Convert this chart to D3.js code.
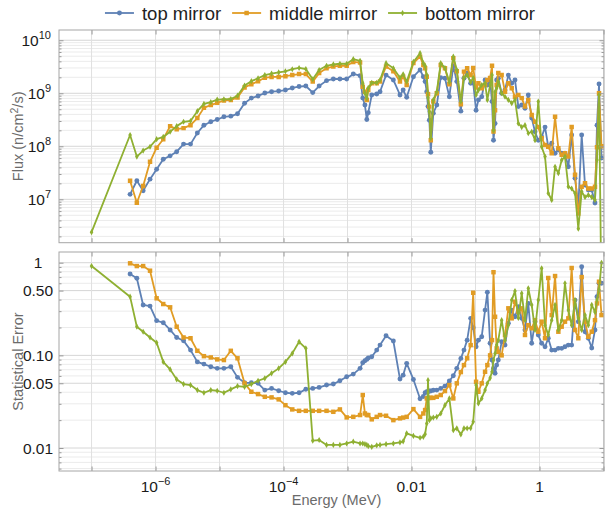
<!DOCTYPE html>
<html>
<head>
<meta charset="utf-8">
<script src="https://cdn.jsdelivr.net/npm/d3@7"></script>
<style>
  body { margin: 0; background: #fff; }
  svg { font-family: "Liberation Sans", Arial, Helvetica, sans-serif; }
</style>
</head>
<body>
<svg id="chart" width="609" height="508"></svg>
<script>
// ---- data -----------------------------------------------------------------
// Energy bin values (MeV), shared by the three mirrors
const energy = [
  4.0e-7, 5.1e-7, 6.4e-7, 8.2e-7, 1.04e-6, 1.32e-6, 1.69e-6, 2.14e-6, 2.74e-6, 3.52e-6,
  4.5e-6, 5.7e-6, 7.3e-6, 9.2e-6, 1.17e-5, 1.5e-5, 1.91e-5, 2.46e-5, 3.14e-5, 4.0e-5,
  5.1e-5, 6.5e-5, 8.4e-5, 1.07e-4, 1.37e-4, 1.75e-4, 2.23e-4, 2.86e-4, 3.6e-4, 4.7e-4,
  6.0e-4, 7.6e-4, 9.7e-4, 1.23e-3, 1.57e-3,
  1.73e-3, 1.87e-3, 2.0e-3, 2.11e-3, 2.39e-3, 2.86e-3, 3.22e-3, 4.0e-3, 5.2e-3, 6.6e-3,
  7.4e-3, 8.4e-3, 1.07e-2, 1.36e-2, 1.53e-2, 1.63e-2, 1.73e-2, 1.81e-2, 1.9e-2, 2.0e-2,
  2.19e-2, 2.48e-2, 2.86e-2, 3.33e-2, 3.9e-2, 4.5e-2, 5.1e-2, 5.9e-2, 6.6e-2, 7.4e-2,
  8.4e-2, 9.2e-2, 0.102, 0.111, 0.125, 0.141, 0.153, 0.169, 0.181, 0.191,
  0.202, 0.214, 0.227, 0.256, 0.289, 0.326, 0.368, 0.414, 0.467, 0.527,
  0.593, 0.668, 0.755, 0.851, 0.957, 1.08, 1.22, 1.37, 1.55, 1.75,
  1.97, 2.22, 2.5, 2.82, 3.18, 3.59, 4.04, 4.56, 5.14, 5.79,
  6.55, 7.36, 7.91, 8.51, 9.31
];
// The bottom mirror also has a lowest bin at 1e-7 MeV
const bottomEnergy = [1.0e-7].concat(energy);

// Flux (n/cm^2/s)
const topFlux = [
  1.24e7, 2.24e7, 1.45e7, 2.4e7, 3.7e7, 5.7e7, 6.6e7, 7.9e7, 1.1e8, 1.1e8,
  1.78e8, 2.5e8, 2.9e8, 3.2e8, 3.6e8, 3.7e8, 4.1e8, 6.5e8, 8.1e8, 8.9e8,
  1.01e9, 1.07e9, 1.1e9, 1.15e9, 1.26e9, 1.34e9, 1.37e9, 1.03e9, 1.37e9, 1.73e9,
  1.86e9, 1.86e9, 1.86e9, 2.31e9, 2.15e9,
  8.1e8, 6.0e8, 3.2e8, 4.3e8, 9.3e8, 9.7e8, 1.07e9, 2.2e9, 1.78e9, 9.3e8,
  1.15e9, 8.4e8, 2.05e9, 2.75e9, 2.05e9, 1.66e9, 1.07e9, 5.6e8, 3.1e8, 7.7e7,
  4.2e8, 6.0e8, 1.97e9, 1.92e9, 8.6e8, 3.3e9, 1.66e9, 4.6e8, 1.92e9, 2.4e9,
  1.55e9, 1.56e9, 4.8e8, 7.5e8, 8.6e8, 1.78e9, 1.43e9, 1.78e9, 7.0e8, 1.3e8,
  2.7e8, 1.78e9, 1.92e9, 1.0e9, 1.15e9, 2.2e9, 1.55e9, 1.78e9, 5.6e8, 6.0e8,
  5.2e8, 9.3e8, 3.4e8, 1.88e8, 1.3e8, 1.5e8, 2.3e8, 9.8e7, 1.14e8, 7.4e7,
  8.5e7, 7.4e7, 7.4e7, 4.1e7, 1.63e8, 2.5e7, 7.2e6, 1.63e8, 1.86e7, 1.5e7,
  1.5e7, 8.5e6, 2.5e8, 1.5e9, 6.0e7
];
const middleFlux = [
  2.24e7, 8.6e6, 1.78e7, 5.1e7, 9.4e7, 1.36e8, 2.4e8, 2.1e8, 2.2e8, 2.5e8,
  3.4e8, 5.3e8, 6.0e8, 6.6e8, 7.3e8, 7.5e8, 8.3e8, 1.29e9, 1.48e9, 1.68e9,
  1.96e9, 2.03e9, 2.03e9, 2.1e9, 2.2e9, 2.3e9, 2.3e9, 1.66e9, 2.4e9, 2.96e9,
  3.2e9, 3.3e9, 3.3e9, 3.9e9, 3.8e9,
  1.33e9, 1.07e9, 7.5e8, 1.15e9, 1.55e9, 1.55e9, 1.66e9, 3.2e9, 2.6e9, 1.66e9,
  2.05e9, 1.43e9, 3.7e9, 4.9e9, 3.4e9, 2.96e9, 2.05e9, 9.6e8, 5.6e8, 1.3e8,
  7.0e8, 1.0e9, 3.4e9, 2.96e9, 1.48e9, 4.6e9, 2.6e9, 6.2e8, 2.56e9, 2.96e9,
  2.2e9, 3.0e9, 1.28e9, 1.55e9, 1.24e9, 1.43e9, 1.78e9, 1.95e9, 3.3e9, 1.9e8,
  4.8e8, 1.43e9, 2.4e9, 2.2e9, 1.07e9, 1.55e9, 1.24e9, 8.6e8, 9.3e8, 8.1e8,
  5.6e8, 7.5e8, 3.9e8, 2.9e8, 2.3e8, 1.42e8, 1.06e8, 9.8e7, 7.4e7, 3.6e8,
  9.2e7, 6.9e7, 7.4e7, 6.4e7, 2.3e8, 2.9e7, 5.4e6, 1.73e7, 2.0e7, 1.6e7,
  1.6e7, 1.73e7, 9.6e7, 1.0e9, 1.0e8
];
const bottomFlux = [
  2.4e6,
  1.63e8, 6.4e7, 8.3e7, 9.8e7, 1.36e8, 1.5e8, 1.88e8, 2.4e8, 2.9e8, 3.0e8,
  4.6e8, 6.3e8, 6.8e8, 7.6e8, 7.7e8, 7.8e8, 9.0e8, 1.4e9, 1.69e9, 1.92e9,
  2.2e9, 2.35e9, 2.47e9, 2.6e9, 2.84e9, 3.0e9, 2.87e9, 1.84e9, 2.75e9, 3.3e9,
  3.5e9, 3.6e9, 3.6e9, 4.4e9, 4.1e9,
  1.55e9, 1.0e9, 8.1e8, 1.26e9, 1.58e9, 1.58e9, 1.78e9, 3.7e9, 2.96e9, 1.97e9,
  2.28e9, 1.66e9, 3.9e9, 5.7e9, 3.7e9, 3.3e9, 2.2e9, 8.2e8, 4.5e8, 1.42e8,
  7.5e8, 1.06e9, 3.7e9, 3.0e9, 1.63e9, 4.9e9, 2.75e9, 7.0e8, 1.95e9, 2.2e9,
  1.63e9, 1.95e9, 9.3e8, 1.15e9, 1.43e9, 1.56e9, 7.5e8, 1.43e9, 2.2e9, 2.0e8,
  1.06e9, 1.26e9, 1.66e9, 1.0e9, 8.6e8, 7.5e8, 6.5e8, 7.5e8, 2.7e8, 2.3e8,
  2.5e8, 1.76e8, 1.88e8, 1.3e8, 7.0e8, 9.8e7, 6.4e7, 1.3e7, 9.7e6, 4.1e7,
  3.1e7, 5.5e7, 6.4e7, 1.73e7, 1.6e7, 1.3e7, 2.8e6, 1.4e7, 1.1e7, 1.2e7,
  1.1e7, 9.7e6, 5.5e7, 9.3e8, 1.0e5
];

// Relative statistical error
const topError = [
  0.755, 0.68, 0.35, 0.34, 0.237, 0.225, 0.188, 0.156, 0.144, 0.114,
  0.085, 0.0805, 0.0753, 0.0724, 0.0724, 0.0753, 0.0579, 0.0506, 0.0506, 0.05,
  0.0422, 0.044, 0.0415, 0.0395, 0.0389, 0.0395, 0.043, 0.044, 0.0451, 0.0478,
  0.049, 0.0532, 0.0587, 0.0628, 0.0724,
  0.0832, 0.0875, 0.0905, 0.0935, 0.0966, 0.114, 0.129, 0.163, 0.143, 0.0555,
  0.0612, 0.082, 0.055, 0.034, 0.036, 0.0395, 0.0405, 0.0406, 0.0412, 0.0412,
  0.042, 0.0422, 0.044, 0.0466, 0.0528, 0.0602, 0.0724, 0.0928, 0.114, 0.146,
  0.251, 0.199, 0.124, 0.146, 0.159, 0.308, 0.479, 0.135, 0.089, 0.0724,
  0.064, 0.0785, 0.089, 0.14, 0.129, 0.222, 0.308, 0.261, 0.335, 0.251,
  0.188, 0.364, 0.135, 0.231, 0.166, 0.135, 0.124, 0.153, 0.114, 0.114,
  0.119, 0.119, 0.124, 0.129, 0.129, 0.395, 0.231, 0.905, 0.18, 0.153,
  0.12, 0.188, 0.43, 0.6, 0.6
];
const middleError = [
  0.985, 0.92, 0.92, 0.82, 0.413, 0.358, 0.33, 0.204, 0.156, 0.153,
  0.112, 0.098, 0.095, 0.0905, 0.089, 0.112, 0.093, 0.0499, 0.0405, 0.0382,
  0.0357, 0.0352, 0.0335, 0.029, 0.0261, 0.0252, 0.0252, 0.0252, 0.0252, 0.0252,
  0.0246, 0.0261, 0.0214, 0.0217, 0.0227,
  0.0373, 0.0236, 0.0227, 0.0227, 0.0204, 0.0217, 0.0227, 0.0223, 0.02, 0.0209,
  0.0213, 0.0217, 0.0263, 0.0217, 0.0236, 0.0257, 0.0343, 0.0346, 0.0348, 0.0348,
  0.0348, 0.0357, 0.0373, 0.0412, 0.0478, 0.0343, 0.0499, 0.066, 0.0785, 0.093,
  0.129, 0.474, 0.0519, 0.0405, 0.0499, 0.0665, 0.0785, 0.1, 0.146, 0.79,
  0.261, 0.119, 0.109, 0.1, 0.166, 0.322, 0.251, 0.379, 0.296, 0.322,
  0.166, 0.212, 0.196, 0.24, 0.18, 0.231, 0.153, 0.684, 0.272, 0.718,
  0.18, 0.204, 0.231, 0.251, 0.877, 0.188, 0.153, 0.70, 0.231, 0.159,
  0.18, 0.24, 0.364, 0.624, 0.272
];
const bottomError = [
  0.92,
  0.43, 0.204, 0.18, 0.156, 0.137, 0.085, 0.0706, 0.055, 0.049, 0.0478,
  0.0422, 0.0395, 0.0422, 0.0415, 0.0395, 0.043, 0.0466, 0.0458, 0.049, 0.0532,
  0.0565, 0.064, 0.0724, 0.085, 0.105, 0.14, 0.119, 0.012, 0.0122, 0.0108,
  0.0108, 0.0108, 0.0112, 0.0117, 0.0112,
  0.0112, 0.011, 0.0108, 0.0105, 0.0103, 0.0107, 0.0108, 0.011, 0.0112, 0.0115,
  0.0118, 0.0144, 0.0135, 0.0129, 0.0132, 0.0141, 0.0184, 0.054, 0.02, 0.0209,
  0.0213, 0.0217, 0.0236, 0.029, 0.0343, 0.0156, 0.0163, 0.014, 0.0163, 0.0163,
  0.0164, 0.0192, 0.0478, 0.0303, 0.0343, 0.0422, 0.0499, 0.0569, 0.0665, 0.089,
  0.105, 0.129, 0.146, 0.24, 0.146, 0.212, 0.395, 0.494, 0.253, 0.467,
  0.24, 0.53, 0.35, 0.188, 0.395, 0.87, 0.212, 0.166, 0.24, 0.35,
  0.188, 0.24, 0.6, 0.308, 0.212, 0.395, 0.253, 0.188, 0.272, 0.212,
  0.35, 0.293, 0.395, 0.507, 1.0
];

const seriesNames = ["top mirror", "middle mirror", "bottom mirror"];
const seriesColors = ["#5E81B5", "#E19C24", "#8FB032"];

// Tick labels
const energyTickValues = [1e-6, 1e-4, 1e-2, 1];
const energyTickBase = ["10", "10", "0.01", "1"];
const energyTickExp = ["\u22126", "\u22124", "", ""];
const energyDecades = [1e-7, 1e-6, 1e-5, 1e-4, 1e-3, 1e-2, 1e-1, 1, 10];
const fluxTickValues = [1e7, 1e8, 1e9, 1e10];
const fluxTickExp = ["7", "8", "9", "10"];
const errorTickValues = [1, 0.5, 0.1, 0.05, 0.01];
const errorTickLabels = ["1", "0.50", "0.10", "0.05", "0.01"];

// ---- layout & scales -------------------------------------------------------
const plotLeft = 59, plotRight = 604;
const fluxTop = 30, fluxBottom = 242.7;
const errTop = 252, errBottom = 471;

const x = d3.scaleLog().domain([3.1e-8, 10.18]).range([plotLeft, plotRight]);
const yFlux = d3.scaleLog().domain([1.52e6, 1.56e10]).range([fluxBottom, fluxTop]);
const yErr = d3.scaleLog().domain([0.00565, 1.305]).range([errBottom, errTop]);

const series = [
  { name: seriesNames[0], color: seriesColors[0], symbol: d3.symbolCircle, size: 19,
    energy: energy, flux: topFlux, error: topError },
  { name: seriesNames[1], color: seriesColors[1], symbol: d3.symbolSquare, size: 20,
    energy: energy, flux: middleFlux, error: middleError },
  { name: seriesNames[2], color: seriesColors[2], symbol: d3.symbolDiamond, size: 11,
    energy: bottomEnergy, flux: bottomFlux, error: bottomError }
];

const svg = d3.select("#chart");
const defs = svg.append("defs");

function mantissa(v) {
  return Math.round(v / Math.pow(10, Math.floor(Math.log10(v) + 1e-9)));
}

function drawPanel(top, bottom, y, key, clipId, isMajorY, majorY) {
  const g = svg.append("g");

  defs.append("clipPath").attr("id", clipId)
    .append("rect")
    .attr("x", plotLeft).attr("y", top)
    .attr("width", plotRight - plotLeft).attr("height", bottom - top);

  // grid lines
  const grid = g.append("g");
  grid.selectAll("line.h").data(y.ticks()).join("line")
    .attr("class", "h")
    .attr("x1", plotLeft).attr("x2", plotRight)
    .attr("y1", d => y(d)).attr("y2", d => y(d))
    .attr("stroke", d => isMajorY(d) ? "#d6d6d6" : "#ebebeb")
    .attr("stroke-width", 1);
  grid.selectAll("line.v").data(energyDecades).join("line")
    .attr("class", "v")
    .attr("x1", d => x(d)).attr("x2", d => x(d))
    .attr("y1", top).attr("y2", bottom)
    .attr("stroke", "#e0e0e0")
    .attr("stroke-width", 1);

  // series
  const plot = g.append("g").attr("clip-path", `url(#${clipId})`);
  series.forEach(s => {
    const pts = s.energy.map((e, i) => ({ e: e, v: s[key][i] }));
    const line = d3.line().x(d => x(d.e)).y(d => y(d.v));
    plot.append("path")
      .datum(pts)
      .attr("fill", "none")
      .attr("stroke", s.color)
      .attr("stroke-width", 1.8)
      .attr("stroke-linejoin", "round")
      .attr("d", line);
    plot.append("g").selectAll("path").data(pts).join("path")
      .attr("transform", d => `translate(${x(d.e)},${y(d.v)})`)
      .attr("d", d3.symbol().type(s.symbol).size(s.size))
      .attr("fill", s.color);
  });

  // frame ticks (inward)
  const tickColor = "#9a9a9a";
  const styleAxis = sel => {
    sel.select(".domain").remove();
    sel.selectAll("line").attr("stroke", tickColor);
    sel.selectAll("text").remove();
  };
  const minorY = y.ticks().filter(d => !isMajorY(d));
  [[plotLeft, d3.axisLeft], [plotRight, d3.axisRight]].forEach(([px, ax]) => {
    g.append("g").attr("transform", `translate(${px},0)`)
      .call(ax(y).tickValues(majorY).tickSize(-4.5)).call(styleAxis);
    g.append("g").attr("transform", `translate(${px},0)`)
      .call(ax(y).tickValues(minorY).tickSize(-2.5)).call(styleAxis);
  });
  g.append("g").attr("transform", `translate(0,${top})`)
    .call(d3.axisTop(x).tickValues(energyDecades).tickSize(-4.5)).call(styleAxis);
  g.append("g").attr("transform", `translate(0,${bottom})`)
    .call(d3.axisBottom(x).tickValues(energyDecades).tickSize(-4.5)).call(styleAxis);

  // frame
  g.append("rect")
    .attr("x", plotLeft).attr("y", top)
    .attr("width", plotRight - plotLeft).attr("height", bottom - top)
    .attr("fill", "none")
    .attr("stroke", "#a6a6a6")
    .attr("stroke-width", 1);
  return g;
}

const fluxPanel = drawPanel(fluxTop, fluxBottom, yFlux, "flux", "clip-flux",
  d => mantissa(d) === 1, fluxTickValues);
const errPanel = drawPanel(errTop, errBottom, yErr, "error", "clip-err",
  d => mantissa(d) === 1 || mantissa(d) === 5, errorTickValues);

// ---- tick labels -------------------------------------------------------------
const labelColor = "#1a1a1a";
const tickFont = 15.5, supFont = 11;
fluxPanel.append("g").selectAll("text").data(fluxTickValues).join("text")
  .attr("x", 51)
  .attr("y", d => yFlux(d) + 5.5)
  .attr("text-anchor", "end")
  .attr("font-size", tickFont)
  .attr("fill", labelColor)
  .each(function (d, i) {
    const t = d3.select(this);
    t.append("tspan").text("10");
    t.append("tspan").attr("dy", -7).attr("font-size", supFont).text(fluxTickExp[i]);
  });

errPanel.append("g").selectAll("text").data(errorTickValues).join("text")
  .attr("x", 38)
  .attr("y", d => yErr(d) + 5.5)
  .attr("text-anchor", "middle")
  .attr("font-size", tickFont)
  .attr("fill", labelColor)
  .text((d, i) => errorTickLabels[i]);

errPanel.append("g").selectAll("text").data(energyTickValues).join("text")
  .attr("x", d => x(d))
  .attr("y", 492)
  .attr("text-anchor", "middle")
  .attr("font-size", tickFont)
  .attr("fill", labelColor)
  .each(function (d, i) {
    const t = d3.select(this);
    t.append("tspan").text(energyTickBase[i]);
    if (energyTickExp[i]) {
      t.append("tspan").attr("dy", -7).attr("font-size", supFont).text(energyTickExp[i]);
    }
  });

// ---- axis titles ---------------------------------------------------------------
const titleColor = "#6b6b6b";
const titleFont = 14.5;
const fluxTitle = svg.append("text")
  .attr("transform", `translate(23,${(fluxTop + fluxBottom) / 2}) rotate(-90)`)
  .attr("text-anchor", "middle")
  .attr("font-size", titleFont)
  .attr("fill", titleColor);
fluxTitle.append("tspan").text("Flux (n/cm");
fluxTitle.append("tspan").attr("dy", -5.5).attr("font-size", 10.5).text("2");
fluxTitle.append("tspan").attr("dy", 5.5).text("/s)");

svg.append("text")
  .attr("transform", `translate(23,${(errTop + errBottom) / 2}) rotate(-90)`)
  .attr("text-anchor", "middle")
  .attr("font-size", titleFont)
  .attr("fill", titleColor)
  .text("Statistical Error");

svg.append("text")
  .attr("x", (plotLeft + plotRight) / 2 + 5)
  .attr("y", 505)
  .attr("text-anchor", "middle")
  .attr("font-size", titleFont)
  .attr("fill", titleColor)
  .text("Energy (MeV)");

// ---- legend --------------------------------------------------------------------
const legend = svg.append("g");
const swatchW = 29, swatchGap = 8, itemGap = 11, legendY = 13;
const items = legend.selectAll("g").data(series).join("g");
items.append("line")
  .attr("x1", 0).attr("x2", swatchW)
  .attr("y1", legendY).attr("y2", legendY)
  .attr("stroke", d => d.color).attr("stroke-width", 1.8);
items.append("path")
  .attr("transform", `translate(${swatchW / 2},${legendY})`)
  .attr("d", d => d3.symbol().type(d.symbol).size(d.size)())
  .attr("fill", d => d.color);
items.append("text")
  .attr("x", swatchW + swatchGap)
  .attr("y", legendY + 6.5)
  .attr("font-size", 18.5)
  .attr("fill", "#222")
  .text(d => d.name);
const widths = [];
items.each(function () { widths.push(this.getBBox().width); });
const total = d3.sum(widths) + itemGap * (widths.length - 1);
let cursor = 320 - total / 2;
items.attr("transform", (d, i) => {
  const t = `translate(${cursor},0)`;
  cursor += widths[i] + itemGap;
  return t;
});
</script>
</body>
</html>
